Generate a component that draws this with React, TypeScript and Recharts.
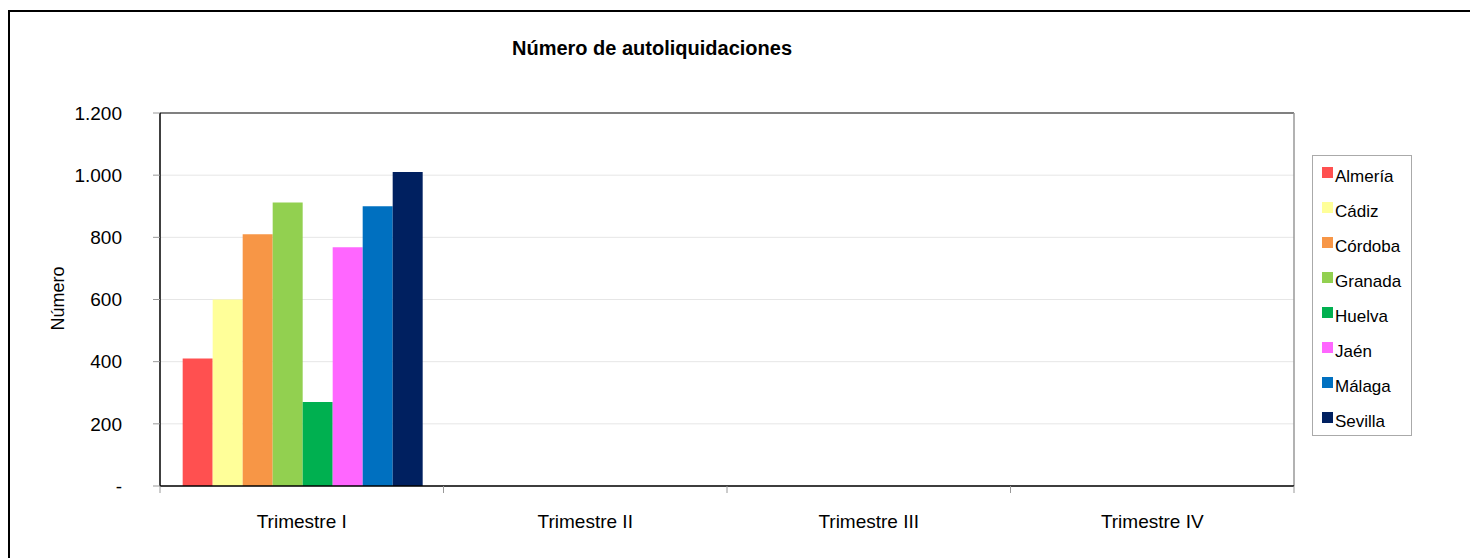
import { Bar, BarChart, CartesianGrid, ReferenceLine, XAxis, YAxis } from "recharts";

const quarters = ["Trimestre I", "Trimestre II", "Trimestre III", "Trimestre IV"];
const provinces = ["Almería", "Cádiz", "Córdoba", "Granada", "Huelva", "Jaén", "Málaga", "Sevilla"];
const colors = ["#ff5050", "#ffff99", "#f79646", "#92d050", "#00b050", "#ff66ff", "#0070c0", "#002060"];
const trimestreI = [410, 600, 810, 912, 270, 768, 900, 1010];
const yTicks = [0, 200, 400, 600, 800, 1000, 1200];

const FONT = "'Liberation Sans', Arial, sans-serif";
const X_TICK_SIZE = 7;
const X_TICK_MARGIN = 22;

const chartData = quarters.map((q, qi) => {
  const row: Record<string, string | number | null> = { quarter: q, pos: qi + 0.5 };
  provinces.forEach((p, i) => {
    row[p] = qi === 0 ? trimestreI[i] : null;
  });
  return row;
});

function formatNumber(v: number) {
  if (v === 0) return "-";
  const s = String(v);
  return s.length > 3 ? s.slice(0, s.length - 3) + "." + s.slice(-3) : s;
}

// category label plus the small marks at the band edges
function QuarterTick(props: any) {
  const { x, y, payload, index, visibleTicksCount } = props;
  const half = payload.offset || 0;
  const axisY = y - X_TICK_SIZE - X_TICK_MARGIN;
  const last = index === visibleTicksCount - 1;
  return (
    <g>
      <line x1={x - half} x2={x - half} y1={axisY} y2={axisY + X_TICK_SIZE} stroke="#999" />
      {last && <line x1={x + half} x2={x + half} y1={axisY} y2={axisY + X_TICK_SIZE} stroke="#999" />}
      <text x={x} y={y} dy="0.71em" textAnchor="middle" fill="#000" fontSize={19} fontFamily={FONT}>
        {payload.value}
      </text>
    </g>
  );
}

export default function App() {
  return (
    <div
      style={{
        position: "relative",
        top: 2,
        width: 1466,
        height: 560,
        border: "2px solid #000",
        boxSizing: "border-box",
        fontFamily: FONT,
        background: "#fff",
      }}
    >
      <div
        style={{
          position: "absolute",
          left: 0,
          top: 25,
          width: 1284,
          textAlign: "center",
          fontWeight: "bold",
          fontSize: 20,
        }}
      >
        Número de autoliquidaciones
      </div>
      <div
        style={{
          position: "absolute",
          left: 58 - 10 - 40,
          top: 288 - 12,
          width: 80,
          textAlign: "center",
          fontSize: 18,
          transform: "rotate(-90deg)",
        }}
      >
        Número
      </div>
      <BarChart
        width={1462}
        height={546}
        data={chartData}
        margin={{ top: 101, right: 178, bottom: 22, left: 70 }}
        barCategoryGap="8%"
        barGap={0}
      >
        <CartesianGrid vertical={false} stroke="#e6e6e6" />
        <XAxis
          dataKey="quarter"
          xAxisId="cat"
          tickLine={false}
          axisLine={{ stroke: "#000", strokeWidth: 1.5 }}
          tick={<QuarterTick />}
          tickSize={X_TICK_SIZE}
          tickMargin={X_TICK_MARGIN}
          height={50}
        />
        <XAxis
          xAxisId="edge"
          dataKey="pos"
          type="number"
          domain={[0, 4]}
          allowDataOverflow
          hide
        />
        <YAxis
          domain={[0, 1200]}
          ticks={yTicks}
          interval={0}
          width={80}
          axisLine={{ stroke: "#000", strokeWidth: 1.5 }}
          tickLine={{ stroke: "#999" }}
          tickSize={7}
          tickMargin={31}
          tickFormatter={formatNumber}
          tick={{ fill: "#000", fontSize: 19, fontFamily: FONT }}
        />
        <ReferenceLine y={1200} xAxisId="cat" stroke="#808080" strokeWidth={2} />
        <ReferenceLine x={4} xAxisId="edge" stroke="#999" strokeWidth={1.5} ifOverflow="visible" />
        {provinces.map((p, i) => (
          <Bar key={p} dataKey={p} xAxisId="cat" fill={colors[i]} isAnimationActive={false} />
        ))}
      </BarChart>
      <div
        style={{
          position: "absolute",
          left: 1312 - 10,
          top: 155 - 12,
          width: 100,
          height: 281,
          border: "1px solid #aaa",
          boxSizing: "border-box",
          paddingTop: 3,
        }}
      >
        {provinces.map((p, i) => (
          <div
            key={p}
            style={{ display: "flex", alignItems: "center", height: 35, fontSize: 17, paddingLeft: 9 }}
          >
            <span
              style={{
                display: "inline-block",
                width: 11,
                height: 11,
                background: colors[i],
                marginRight: 2,
                marginTop: -8,
              }}
            />
            {p}
          </div>
        ))}
      </div>
    </div>
  );
}
